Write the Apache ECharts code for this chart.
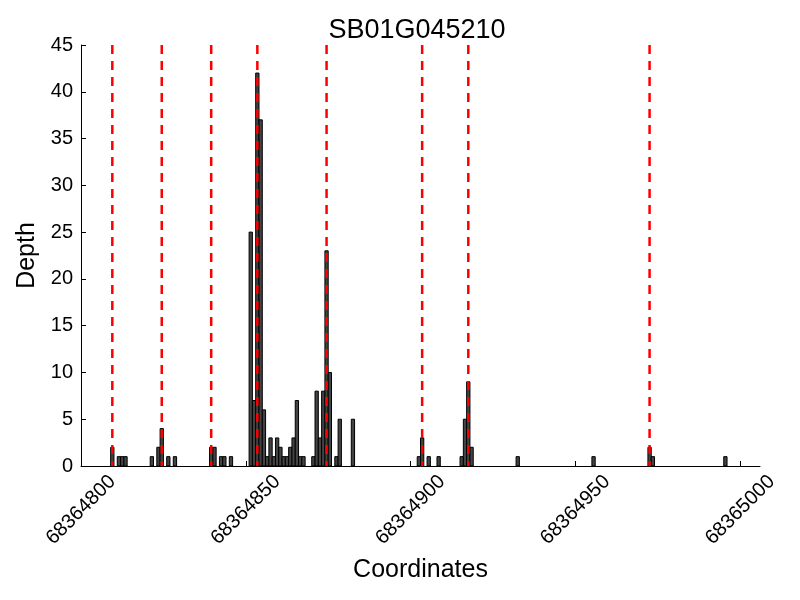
<!DOCTYPE html>
<html>
<head>
<meta charset="utf-8">
<script src="https://cdn.jsdelivr.net/npm/echarts@6/dist/echarts.min.js"></script>
<style>html,body{margin:0;padding:0;background:#fff}#c{width:800px;height:600px}</style>
</head>
<body>
<div id="c"></div>
<script>
// ---- data ----
const title = 'SB01G045210';
const positions = [
  68364809, 68364811, 68364812, 68364813, 68364821, 68364823, 68364824, 68364826, 68364828,
  68364839, 68364840, 68364842, 68364843, 68364845,
  68364851, 68364852, 68364853, 68364854, 68364855, 68364856, 68364857, 68364858, 68364859,
  68364860, 68364861, 68364862, 68364863, 68364864, 68364865, 68364866, 68364867,
  68364870, 68364871, 68364872, 68364873, 68364874, 68364875, 68364877, 68364878, 68364882,
  68364902, 68364903, 68364905, 68364908, 68364915, 68364916, 68364917, 68364918,
  68364932, 68364955, 68364972, 68364973, 68364995
];
const depths = [
  2, 1, 1, 1, 1, 2, 4, 1, 1,
  2, 2, 1, 1, 1,
  25, 7, 42, 37, 6, 1, 3, 1, 3,
  2, 1, 1, 2, 3, 7, 1, 1,
  1, 8, 3, 8, 23, 10, 1, 5, 5,
  1, 3, 1, 1, 1, 5, 9, 2,
  1, 1, 2, 1, 1
];
const markerPositions = [68364809, 68364824, 68364839, 68364853, 68364874, 68364903, 68364917, 68364972];
const xTicks = [68364800, 68364850, 68364900, 68364950, 68365000];
const xMin = 68364800, xMax = 68365006;
const yMin = 0, yMax = 45, yStep = 5;

// ---- chart ----
const FONT = '"Liberation Sans", Arial, sans-serif';
const chart = echarts.init(document.getElementById('c'), null, {renderer: 'canvas'});
const barData = positions.map((p, i) => [p, depths[i]]);
const lineData = markerPositions.map(p => [p]);

chart.setOption({
  animation: false,
  backgroundColor: '#fff',
  title: {
    text: title, left: 412, top: 12, textAlign: 'center',
    textStyle: {fontFamily: FONT, fontSize: 27, fontWeight: 'normal', color: '#000'}
  },
  grid: {left: 81, right: 40, top: 45, bottom: 134, containLabel: false},
  xAxis: {
    type: 'value', min: xMin, max: xMax,
    name: 'Coordinates', nameLocation: 'middle', nameGap: 92,
    nameTextStyle: {fontFamily: FONT, fontSize: 25, color: '#000'},
    axisLine: {show: true, lineStyle: {color: '#000', width: 1}},
    axisTick: {show: true, inside: true, length: 5, lineStyle: {color: '#000'}, customValues: xTicks},
    axisLabel: {
      customValues: xTicks, rotate: 45, align: 'center', verticalAlign: 'middle', margin: 44,
      fontFamily: FONT, fontSize: 20, color: '#000',
      formatter: v => String(v)
    },
    splitLine: {show: false}
  },
  yAxis: {
    type: 'value', min: yMin, max: yMax, interval: yStep,
    name: 'Depth', nameLocation: 'middle', nameGap: 41,
    nameTextStyle: {fontFamily: FONT, fontSize: 25, color: '#000'},
    axisLine: {show: true, lineStyle: {color: '#000', width: 1}},
    axisTick: {show: true, inside: true, length: 5, lineStyle: {color: '#000'}},
    axisLabel: {fontFamily: FONT, fontSize: 20, color: '#000', margin: 8},
    splitLine: {show: false}
  },
  series: [
    {
      type: 'custom', z: 2, clip: true,
      data: barData,
      encode: {x: 0, y: 1},
      renderItem: function (params, api) {
        const x = api.value(0), h = api.value(1);
        const p0 = api.coord([x, h]);
        const p1 = api.coord([x + 1, 0]);
        return {
          type: 'rect',
          shape: {x: p0[0], y: p0[1], width: p1[0] - p0[0], height: p1[1] - p0[1]},
          style: {fill: '#434343', stroke: '#000', lineWidth: 1}
        };
      }
    },
    {
      type: 'custom', z: 5, clip: true,
      data: lineData,
      encode: {x: 0},
      renderItem: function (params, api) {
        const x = api.value(0) + 0.5;
        const top = api.coord([x, yMax]);
        const bot = api.coord([x, yMin]);
        return {
          type: 'line',
          shape: {x1: top[0], y1: top[1], x2: bot[0], y2: bot[1]},
          style: {stroke: '#ff0000', lineWidth: 2.5, lineDash: [9, 7]}
        };
      }
    }
  ]
});
</script>
</body>
</html>
